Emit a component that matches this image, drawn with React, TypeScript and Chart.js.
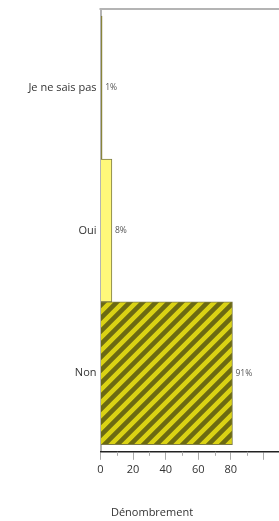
import React, { useEffect, useRef } from 'react';
import { Chart, registerables } from 'chart.js';

Chart.register(...registerables);

const categories = ['Je ne sais pas', 'Oui', 'Non'];
const counts = [1, 7, 81];
const xTickLabels = ['0', '20', '40', '60', '80'];
const axisTitle = 'Dénombrement';

const FONT = '"Open Sans", "DejaVu Sans", sans-serif';

function stripePattern(): CanvasPattern | string {
  const s = 13;
  const c = document.createElement('canvas');
  c.width = s;
  c.height = s;
  const g = c.getContext('2d');
  if (!g) return '#c8c020';
  g.fillStyle = '#dad214';
  g.fillRect(0, 0, s, s);
  g.strokeStyle = '#6c6a12';
  g.lineWidth = s / (2 * Math.SQRT2);
  g.beginPath();
  for (const k of [0, 1, 2]) {
    const cc = s * k;
    g.moveTo(cc - 2 * s, 2 * s);
    g.lineTo(cc + 2 * s, -2 * s);
  }
  g.stroke();
  const p = g.createPattern(c, 'repeat');
  return p || '#c8c020';
}

const extras = {
  id: 'extras',
  afterDatasetsDraw(chart: any) {
    const ctx = chart.ctx as CanvasRenderingContext2D;
    const { top, left, bottom } = chart.chartArea;
    ctx.save();
    ctx.strokeStyle = '#b4b4b4';
    ctx.lineWidth = 2;
    ctx.beginPath();
    ctx.moveTo(left - 1, top);
    ctx.lineTo(chart.width, top);
    ctx.stroke();
    const xs = chart.scales.x;
    ctx.strokeStyle = '#aaaaaa';
    ctx.lineWidth = 1;
    xs.ticks.forEach((t: any) => {
      if (t.value % 20 !== 0) {
        const px = Math.round(xs.getPixelForValue(t.value)) + 0.5;
        ctx.beginPath();
        ctx.moveTo(px, bottom);
        ctx.lineTo(px, bottom + 4);
        ctx.stroke();
      }
    });
    const total = counts.reduce((a, b) => a + b, 0);
    const meta = chart.getDatasetMeta(0);
    ctx.fillStyle = '#555';
    ctx.font = `8.5px ${FONT}`;
    ctx.textAlign = 'left';
    ctx.textBaseline = 'middle';
    meta.data.forEach((bar: any, i: number) => {
      const pct = Math.round((counts[i] / total) * 100) + '%';
      ctx.fillText(pct, bar.x + 3, bar.y);
    });
    ctx.restore();
  },
};

export default function App() {
  const ref = useRef<HTMLCanvasElement | null>(null);

  useEffect(() => {
    if (!ref.current) return;
    const chart = new Chart(ref.current, {
      type: 'bar',
      data: {
        datasets: [
          {
            data: counts.map((v, i) => ({ x: v, y: i })),
            backgroundColor: ['#8a8636', '#fff87a', stripePattern()],
            borderColor: '#7d7b45',
            borderWidth: 1,
            barPercentage: 1,
            categoryPercentage: 1,
          } as any,
        ],
      },
      options: {
        indexAxis: 'y',
        animation: false,
        responsive: false,
        devicePixelRatio: 1,
        layout: { padding: { top: 1, right: 16, left: 0, bottom: 0 } },
        plugins: {
          legend: { display: false },
          tooltip: { enabled: false },
          title: {
            display: true,
            text: axisTitle,
            position: 'bottom',
            color: '#333',
            font: { family: FONT, size: 11, weight: 'normal' },
            padding: { top: 24, bottom: 2 },
          },
        },
        scales: {
          y: {
            type: 'linear',
            reverse: true,
            offset: false,
            bounds: 'data',
            grace: 0,
            min: -0.55,
            max: 2.55,
            afterFit: (s: any) => {
              s.width = 92.5;
              s.paddingTop = 0;
              s.paddingBottom = 0;
            },
            afterBuildTicks: (s: any) => {
              s.ticks = categories.map((_, i) => ({ value: i }));
            },
            grid: { display: false, drawTicks: false, offset: false },
            border: { display: true, color: '#b4b4b4', width: 2 },
            ticks: {
              autoSkip: false,
              padding: 4,
              color: '#333',
              font: { family: FONT, size: 11 },
              callback: (v: any) => {
                const i = Math.round(Number(v));
                return categories[i] !== undefined ? categories[i] : '';
              },
            },
          },
          x: {
            type: 'linear',
            position: 'bottom',
            min: 0,
            max: 120,
            afterFit: (s: any) => {
              s.height = 30;
            },
            grid: {
              drawOnChartArea: false,
              drawTicks: true,
              tickLength: 8,
              tickWidth: 1,
              tickColor: (c: any) =>
                c.tick && c.tick.value % 20 === 0 ? '#aaaaaa' : 'rgba(0,0,0,0)',
            },
            border: { display: true, color: '#222', width: 1.5 },
            ticks: {
              stepSize: 10,
              autoSkip: false,
              maxRotation: 0,
              padding: 3,
              color: '#333',
              font: { family: FONT, size: 11 },
              callback: (v: any) => (xTickLabels.includes(String(v)) ? String(v) : ''),
            },
          },
        },
      } as any,
      plugins: [extras],
    });
    return () => chart.destroy();
  }, []);

  return (
    <div
      style={{
        position: 'fixed',
        top: 8,
        left: 8,
        width: 271,
        height: 513,
        overflow: 'hidden',
      }}
    >
      <canvas ref={ref} width={304} height={513} style={{ display: 'block' }} />
    </div>
  );
}
